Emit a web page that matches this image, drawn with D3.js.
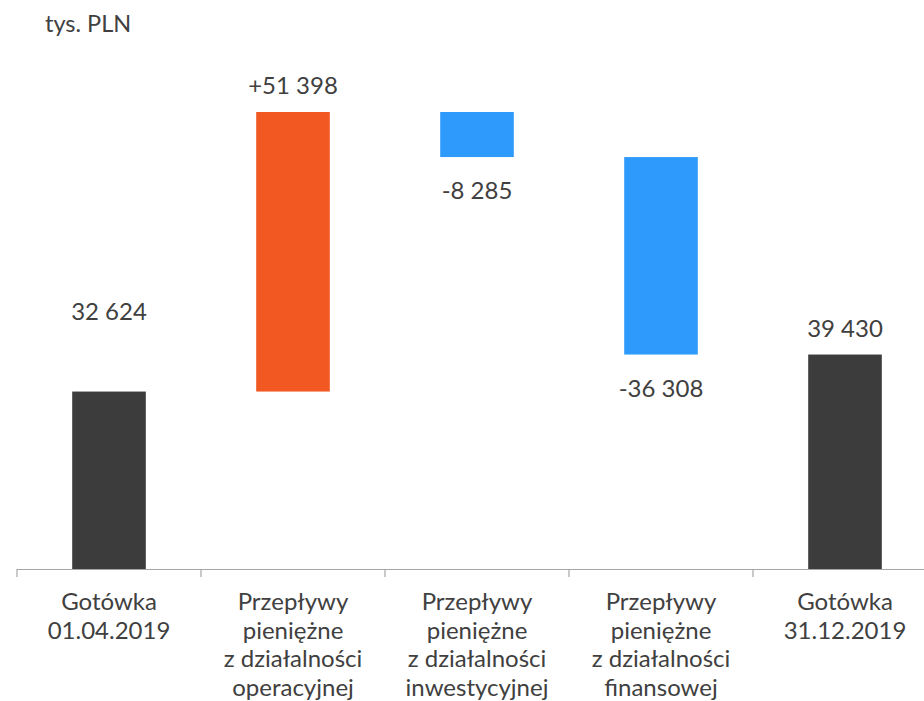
<!DOCTYPE html>
<html>
<head>
<meta charset="utf-8">
<script src="https://cdn.jsdelivr.net/npm/d3@7"></script>
<style>
body { margin: 0; background: #fff; }
text { font-family: Lato, "Noto Sans", sans-serif; fill: #404040; }
</style>
</head>
<body>
<div id="chart"></div>
<script>
// ##### data #####
var categories = [
	["Gotówka", "01.04.2019"],
	["Przepływy", "pieniężne", "z działalności", "operacyjnej"],
	["Przepływy", "pieniężne", "z działalności", "inwestycyjnej"],
	["Przepływy", "pieniężne", "z działalności", "finansowej"],
	["Gotówka", "31.12.2019"]
];
var values = [32624, 51398, -8285, -36308, 39430];
var kinds = ["total", "delta", "delta", "delta", "total"];
var valueLabels = ["32 624", "+51 398", "-8 285", "-36 308", "39 430"];
var unitLabel = "tys. PLN";

// ##### layout #####
var W = 924, H = 701;
var baseY = 569, topY = 112;
var colors = {total: "#3c3c3c", up: "#f25822", down: "#2e9bfc"};

var svg = d3.select("#chart").append("svg")
	.attr("width", W)
	.attr("height", H);

// running totals for the waterfall
var run = 0;
var bars = values.map(function(v, i){
	var b = {i: i, v: v, kind: kinds[i]};
	if (kinds[i] == "total") { b.y0 = 0; b.y1 = v; run = v; }
	else { b.y0 = run; b.y1 = run + v; run = run + v; }
	return b;
});

var x = d3.scaleBand()
	.domain(d3.range(values.length))
	.range([17, 937])
	.paddingInner(0.6).paddingOuter(0.3);

var maxV = d3.max(bars, function(d){ return Math.max(d.y0, d.y1); });
var y = d3.scaleLinear().domain([0, maxV]).range([baseY, topY]);

// step = full band width incl. padding
var step = x.step();

// axis line + ticks at band borders
var g = svg.append("g");
g.append("line")
	.attr("x1", 17).attr("x2", W)
	.attr("y1", baseY + 0.5).attr("y2", baseY + 0.5)
	.attr("stroke", "#a6a6a6").attr("stroke-width", 1.2);

g.selectAll(".tick")
	.data(d3.range(values.length))
	.enter().append("line")
	.attr("class", "tick")
	.attr("x1", function(d){ return x(d) + x.bandwidth()/2 - step/2; })
	.attr("x2", function(d){ return x(d) + x.bandwidth()/2 - step/2; })
	.attr("y1", baseY).attr("y2", baseY + 8)
	.attr("stroke", "#a6a6a6").attr("stroke-width", 1.2);

// bars
g.selectAll(".bar")
	.data(bars)
	.enter().append("rect")
	.attr("class", "bar")
	.attr("x", function(d){ return x(d.i); })
	.attr("width", x.bandwidth())
	.attr("y", function(d){ return y(Math.max(d.y0, d.y1)); })
	.attr("height", function(d){ return Math.abs(y(d.y0) - y(d.y1)); })
	.attr("fill", function(d){
		if (d.kind == "total") return colors.total;
		return d.v > 0 ? colors.up : colors.down;
	});

// value labels
g.selectAll(".vlabel")
	.data(bars)
	.enter().append("text")
	.attr("class", "vlabel")
	.attr("text-anchor", "middle")
	.attr("x", function(d){ return x(d.i) + x.bandwidth()/2; })
	.attr("y", function(d){
		if (d.v < 0) return y(Math.min(d.y0, d.y1)) + 42;
		if (d.i == 0) return y(d.y1) - 72;
		return y(Math.max(d.y0, d.y1)) - 18;
	})
	.style("font-size", "24px")
	.text(function(d){ return valueLabels[d.i]; });

// category labels
var cat = g.selectAll(".cat")
	.data(categories)
	.enter().append("text")
	.attr("class", "cat")
	.attr("text-anchor", "middle")
	.attr("transform", function(d, i){ return "translate(" + (x(i) + x.bandwidth()/2) + "," + 610 + ")"; })
	.style("font-size", "24px");

cat.selectAll("tspan")
	.data(function(d){ return d; })
	.enter().append("tspan")
	.attr("x", 0)
	.attr("y", function(d, j){ return j * 28.5; })
	.text(function(d){ return d; });

// unit
svg.append("text")
	.attr("x", 45).attr("y", 32)
	.style("font-size", "23.5px")
	.text(unitLabel);
</script>
</body>
</html>
